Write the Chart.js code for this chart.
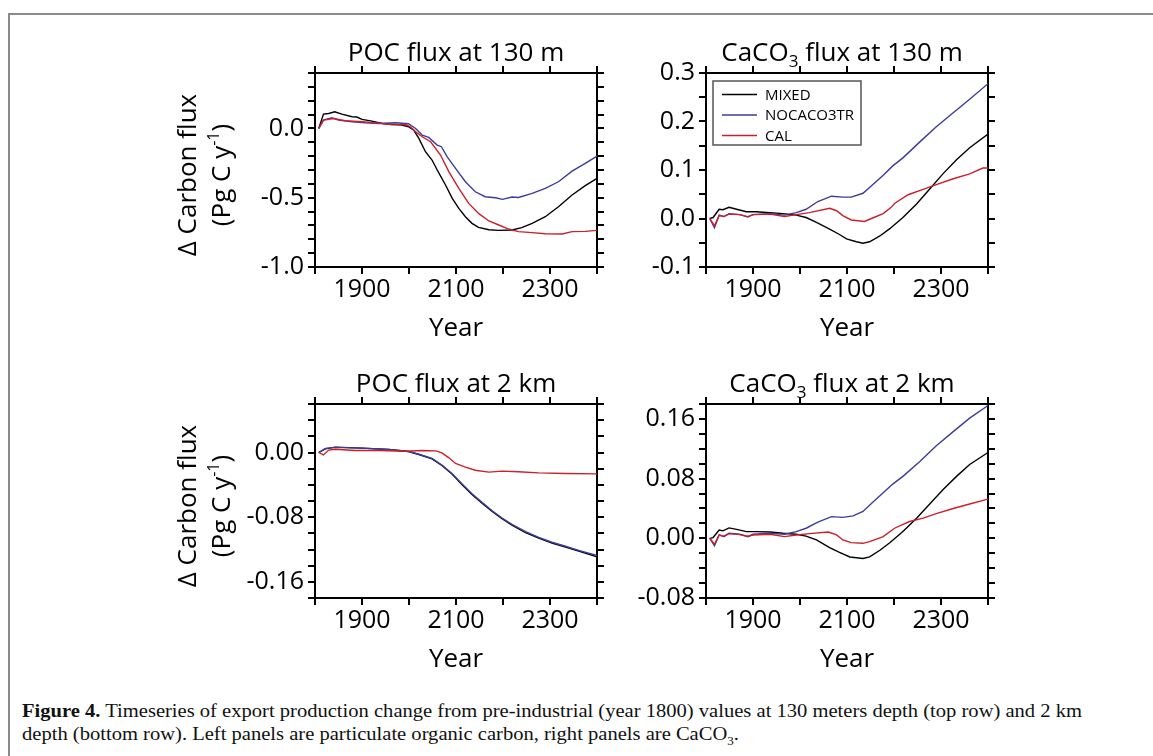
<!DOCTYPE html>
<html><head><meta charset="utf-8">
<script src="https://cdn.jsdelivr.net/npm/chart.js@4.4.1/dist/chart.umd.min.js"></script>
<style>
html,body{margin:0;padding:0;background:#fff;}
body{width:1153px;height:756px;position:relative;overflow:hidden;}
#frame{position:absolute;left:8px;top:13px;width:1145px;height:743px;border-left:2px solid #8a8a8a;border-top:2px solid #8a8a8a;box-sizing:border-box;}
canvas{position:absolute;}
.cap{position:absolute;left:22px;font-family:"Liberation Serif",serif;font-size:19px;white-space:nowrap;transform-origin:0 0;color:#111;line-height:20px;}
.cap sub{font-size:12px;line-height:0;}
</style></head><body>
<div id="frame"></div>
<canvas id="c1" width="460" height="335" style="left:160px;top:25px"></canvas>
<canvas id="c2" width="400" height="335" style="left:620px;top:25px"></canvas>
<canvas id="c3" width="460" height="320" style="left:160px;top:360px"></canvas>
<canvas id="c4" width="400" height="320" style="left:620px;top:360px"></canvas>
<div class="cap" id="cap1" style="top:701px"><b>Figure 4.</b> Timeseries of export production change from pre-industrial (year 1800) values at 130 meters depth (top row) and 2 km</div>
<div class="cap" id="cap2" style="top:724px">depth (bottom row). Left panels are particulate organic carbon, right panels are CaCO<sub>3</sub>.</div>
<script>
// ---------- data ----------
const seriesNames = ['MIXED', 'NOCACO3TR', 'CAL'];
const xTickLabels = [1900, 2100, 2300];

// POC flux at 130 m
const poc130MixedX = [1808,1818,1829,1842,1857,1879,1889,1900,1921,1943,1964,1985,1999,2010,2021,2035,2049,2064,2078,2092,2106,2120,2134,2148,2170,2191,2219,2240,2262,2290,2318,2347,2375,2400];
const poc130MixedY = [0,0.103,0.108,0.12,0.103,0.084,0.082,0.065,0.053,0.036,0.029,0.024,0.012,-0.012,-0.072,-0.168,-0.228,-0.325,-0.41,-0.505,-0.577,-0.637,-0.685,-0.714,-0.731,-0.736,-0.733,-0.716,-0.685,-0.637,-0.565,-0.48,-0.413,-0.36];
const poc130NocX = [1808,1818,1836,1850,1879,1907,1936,1971,1999,2014,2028,2042,2060,2069,2081,2099,2120,2141,2162,2184,2199,2219,2233,2262,2290,2318,2347,2375,2400];
const poc130NocY = [0,0.06,0.077,0.06,0.048,0.041,0.036,0.041,0.034,0.0,-0.048,-0.065,-0.12,-0.132,-0.204,-0.288,-0.385,-0.457,-0.493,-0.5,-0.512,-0.495,-0.498,-0.469,-0.433,-0.385,-0.308,-0.252,-0.2];
const poc130CalX = [1808,1818,1840,1864,1900,1936,1964,1993,2003,2014,2028,2046,2067,2085,2106,2127,2148,2170,2191,2212,2233,2262,2290,2326,2347,2375,2400];
const poc130CalY = [0,0.06,0.072,0.055,0.048,0.038,0.026,0.029,0.012,-0.024,-0.06,-0.096,-0.192,-0.313,-0.433,-0.541,-0.613,-0.668,-0.697,-0.726,-0.745,-0.752,-0.76,-0.762,-0.745,-0.743,-0.736];
const poc130YLabels = [-1.0, -0.5, 0.0];

// CaCO3 flux at 130 m
const caco130MixedX = [1808,1815,1828,1836,1849,1865,1886,1907,1936,1964,1992,2013,2035,2063,2084,2099,2120,2134,2148,2170,2191,2219,2248,2276,2304,2333,2361,2400];
const caco130MixedY = [0,0.002,0.019,0.018,0.023,0.019,0.014,0.014,0.012,0.010,0.007,0.002,-0.008,-0.022,-0.033,-0.042,-0.048,-0.051,-0.048,-0.036,-0.021,0.002,0.030,0.061,0.092,0.121,0.146,0.174];
const caco130NocX = [1808,1818,1828,1838,1849,1872,1889,1900,1936,1967,1992,2013,2038,2067,2091,2109,2134,2148,2177,2198,2219,2255,2290,2326,2361,2400];
const caco130NocY = [0,-0.019,0.007,0.004,0.010,0.008,0.003,0.008,0.010,0.007,0.012,0.019,0.035,0.046,0.044,0.044,0.052,0.064,0.089,0.109,0.125,0.158,0.189,0.218,0.246,0.278];
const caco130CalX = [1808,1818,1828,1838,1849,1872,1889,1900,1936,1967,1992,2020,2063,2078,2091,2109,2137,2152,2177,2194,2201,2230,2262,2290,2326,2361,2389,2400];
const caco130CalY = [0,-0.015,0.006,0.004,0.009,0.008,0.004,0.008,0.009,0.004,0.008,0.012,0.021,0.016,0.006,-0.003,-0.006,0.0,0.010,0.023,0.031,0.049,0.060,0.070,0.082,0.092,0.104,0.104];
const caco130YLabels = [-0.1, 0.0, 0.1, 0.2, 0.3];

// POC flux at 2 km
const poc2kmMixedX = [1808,1822,1843,1900,1957,1999,2021,2049,2070,2092,2113,2134,2156,2177,2198,2219,2248,2276,2304,2333,2361,2400];
const poc2kmMixedY = [0,0.0045,0.0066,0.0054,0.0037,0.0012,-0.0025,-0.0078,-0.016,-0.027,-0.040,-0.052,-0.063,-0.073,-0.082,-0.090,-0.099,-0.106,-0.112,-0.117,-0.122,-0.129];
const poc2kmNocX = [1808,1822,1843,1900,1957,1999,2021,2049,2070,2092,2113,2134,2156,2177,2198,2219,2248,2276,2304,2333,2361,2400];
const poc2kmNocY = [0,0.005,0.0064,0.0054,0.0038,0.0013,-0.0022,-0.0074,-0.0155,-0.0262,-0.039,-0.051,-0.062,-0.072,-0.081,-0.089,-0.098,-0.105,-0.111,-0.116,-0.121,-0.1275];
const poc2kmCalX = [1808,1818,1829,1843,1886,1936,1992,2028,2057,2070,2085,2099,2120,2141,2170,2198,2233,2276,2333,2400];
const poc2kmCalY = [0,-0.003,0.003,0.004,0.0025,0.0025,0.0016,0.0025,0.002,-0.0004,-0.0066,-0.0136,-0.018,-0.022,-0.0243,-0.023,-0.0239,-0.0252,-0.026,-0.0264];
const poc2kmYLabels = [-0.16, -0.08, 0.00];

// CaCO3 flux at 2 km
const caco2kmMixedX = [1808,1815,1828,1836,1849,1865,1886,1907,1936,1964,1992,2013,2035,2063,2084,2106,2134,2148,2170,2191,2219,2248,2276,2304,2333,2361,2400];
const caco2kmMixedY = [0,0.001,0.011,0.010,0.014,0.012,0.009,0.009,0.0085,0.0067,0.0054,0.003,-0.0022,-0.0126,-0.019,-0.025,-0.027,-0.025,-0.016,-0.006,0.009,0.027,0.046,0.065,0.083,0.099,0.115];
const caco2kmNocX = [1808,1818,1828,1838,1849,1872,1889,1900,1936,1967,1992,2013,2038,2067,2091,2113,2134,2156,2177,2198,2219,2255,2290,2326,2361,2400];
const caco2kmNocY = [0,-0.010,0.0045,0.0022,0.0067,0.0054,0.0022,0.0054,0.0067,0.0054,0.009,0.0135,0.0216,0.029,0.028,0.030,0.036,0.049,0.061,0.073,0.083,0.103,0.124,0.143,0.161,0.178];
const caco2kmCalX = [1808,1818,1828,1838,1849,1872,1889,1900,1936,1967,1992,2020,2060,2078,2091,2109,2134,2148,2177,2201,2233,2262,2290,2326,2361,2400];
const caco2kmCalY = [0,-0.008,0.0045,0.003,0.0063,0.005,0.0027,0.0045,0.0054,0.0022,0.0045,0.0063,0.0085,0.0045,-0.0022,-0.0058,-0.0067,-0.0045,0.0022,0.0135,0.0225,0.027,0.033,0.040,0.046,0.0526];
const caco2kmYLabels = [-0.08, 0.00, 0.08, 0.16];

// ---------- style ----------
const FONT = '"Open Sans", "DejaVu Sans", sans-serif';
const COLORS = ['#000000', '#3c3c9c', '#cc1f2a'];

function pts(xs, ys) { return xs.map((x, i) => ({x: x, y: ys[i]})); }

function drawRich(ctx, segs, cx, cy) {
  let total = 0;
  segs.forEach(s => { ctx.font = s.size + 'px ' + FONT; s.w = ctx.measureText(s.t).width; total += s.w; });
  let x = cx - total / 2;
  ctx.textAlign = 'left';
  ctx.textBaseline = 'alphabetic';
  segs.forEach(s => { ctx.font = s.size + 'px ' + FONT; ctx.fillText(s.t, x, cy + (s.dy || 0)); x += s.w; });
}

function annotPlugin(cfg) {
  return {
    id: 'annot',
    afterDraw(chart) {
      const ctx = chart.ctx, ca = chart.chartArea;
      const cx = (ca.left + ca.right) / 2;
      ctx.save();
      ctx.fillStyle = '#000';
      drawRich(ctx, cfg.title, cx + (cfg.titleDx || 0), ca.top - 12);
      drawRich(ctx, [{t: 'Year', size: 26}], cx, ca.bottom + 69);
      if (cfg.yTitle) {
        const cy = (ca.top + ca.bottom) / 2 + 5;
        ctx.save();
        ctx.translate(ca.left - 119, cy);
        ctx.rotate(-Math.PI / 2);
        drawRich(ctx, [{t: '\u0394 Carbon flux', size: 26}], 0, 0);
        ctx.restore();
        ctx.save();
        ctx.translate(ca.left - 85, cy);
        ctx.rotate(-Math.PI / 2);
        drawRich(ctx, [{t: '(Pg C y', size: 26}, {t: '-1', size: 16, dy: -11}, {t: ')', size: 26}], 0, 0);
        ctx.restore();
      }
      if (cfg.legend) {
        const bx = ca.left + 7, by = ca.top + 8, bw = 148, bh = 64;
        ctx.strokeStyle = '#555';
        ctx.lineWidth = 1.5;
        ctx.strokeRect(bx, by, bw, bh);
        chart.data.datasets.forEach((ds, i) => {
          const yy = by + 13.5 + i * 20.5;
          ctx.strokeStyle = ds.borderColor;
          ctx.lineWidth = 1.3;
          ctx.beginPath();
          ctx.moveTo(bx + 9, yy);
          ctx.lineTo(bx + 44, yy);
          ctx.stroke();
          ctx.font = '15px ' + FONT;
          ctx.textAlign = 'left';
          ctx.textBaseline = 'middle';
          ctx.fillStyle = '#000';
          ctx.fillText(ds.label, bx + 52, yy + 1);
        });
      }
      ctx.restore();
    }
  };
}

function makePanel(id, cfg) {
  const canvas = document.getElementById(id);
  const W = canvas.width, H = canvas.height;
  const a = cfg.area;
  const yW = 78, y2W = 10, xH = 40, x2H = 10;
  const tickFont = {family: FONT, size: 25};
  const grid = {drawOnChartArea: false, drawTicks: true, tickLength: 7, lineWidth: 2, color: '#000'};
  const border = {display: true, color: '#000', width: 2};
  const xTicks = {stepSize: 100, autoSkip: false, maxRotation: 0, padding: 1, font: tickFont, color: '#000',
    callback: v => xTickLabels.some(l => Math.abs(l - v) < 1e-6) ? String(v) : ''};
  const yTicks = {stepSize: cfg.step, autoSkip: false, padding: 4, font: tickFont, color: '#000',
    callback: v => { const l = cfg.yLabels.find(l => Math.abs(l - v) < 1e-7); return l === undefined ? '' : l.toFixed(cfg.dec); }};
  const series = cfg.series;
  new Chart(canvas, {
    type: 'line',
    data: {
      datasets: series.map((s, i) => ({
        label: seriesNames[i], data: pts(s[0], s[1]), borderColor: COLORS[i], backgroundColor: COLORS[i],
        borderWidth: 1.4, pointRadius: 0, tension: 0, fill: false, order: 3 - i
      }))
    },
    options: {
      responsive: false, animation: false, devicePixelRatio: 1,
      layout: {padding: {left: a.l - yW, right: W - a.r - y2W, top: a.t - x2H, bottom: H - a.b - xH}},
      plugins: {legend: {display: false}, tooltip: {enabled: false}, title: {display: false}},
      scales: {
        x: {type: 'linear', position: 'bottom', min: 1800, max: 2400, ticks: xTicks, grid: grid, border: border, afterFit: s => { s.height = xH; }},
        x2: {type: 'linear', position: 'top', min: 1800, max: 2400, ticks: {stepSize: 100, display: false}, grid: grid, border: border, afterFit: s => { s.height = x2H; }},
        y: {type: 'linear', position: 'left', min: cfg.min, max: cfg.max, ticks: yTicks, grid: grid, border: border, afterFit: s => { s.width = yW; }},
        y2: {type: 'linear', position: 'right', min: cfg.min, max: cfg.max, ticks: {stepSize: cfg.step, display: false}, grid: grid, border: border, afterFit: s => { s.width = y2W; }}
      }
    },
    plugins: [annotPlugin(cfg)]
  });
}

makePanel('c1', {
  area: {l: 155, r: 437, t: 48, b: 242}, min: -1.0, max: 0.4, step: 0.1, yLabels: poc130YLabels, dec: 1,
  series: [[poc130MixedX, poc130MixedY], [poc130NocX, poc130NocY], [poc130CalX, poc130CalY]],
  title: [{t: 'POC flux at 130 m', size: 26}], yTitle: true
});
makePanel('c2', {
  area: {l: 86, r: 368, t: 48, b: 242}, min: -0.1, max: 0.3, step: 0.05, yLabels: caco130YLabels, dec: 1,
  series: [[caco130MixedX, caco130MixedY], [caco130NocX, caco130NocY], [caco130CalX, caco130CalY]],
  title: [{t: 'CaCO', size: 26}, {t: '3', size: 17, dy: 6}, {t: ' flux at 130 m', size: 26}], titleDx: -5, legend: true
});
makePanel('c3', {
  area: {l: 155, r: 437, t: 44, b: 238}, min: -0.18, max: 0.06, step: 0.02, yLabels: poc2kmYLabels, dec: 2,
  series: [[poc2kmMixedX, poc2kmMixedY], [poc2kmNocX, poc2kmNocY], [poc2kmCalX, poc2kmCalY]],
  title: [{t: 'POC flux at 2 km', size: 26}], yTitle: true
});
makePanel('c4', {
  area: {l: 86, r: 368, t: 44, b: 238}, min: -0.08, max: 0.18, step: 0.02, yLabels: caco2kmYLabels, dec: 2,
  series: [[caco2kmMixedX, caco2kmMixedY], [caco2kmNocX, caco2kmNocY], [caco2kmCalX, caco2kmCalY]],
  title: [{t: 'CaCO', size: 26}, {t: '3', size: 17, dy: 6}, {t: ' flux at 2 km', size: 26}], titleDx: -5
});

// caption: same horizontal compression for both lines, fitted on line 1
(function () {
  const c1 = document.getElementById('cap1'), c2 = document.getElementById('cap2');
  const k = 1060 / c1.getBoundingClientRect().width;
  c1.style.transform = 'scaleX(' + k + ')';
  c2.style.transform = 'scaleX(' + k + ')';
})();
</script>
</body></html>
